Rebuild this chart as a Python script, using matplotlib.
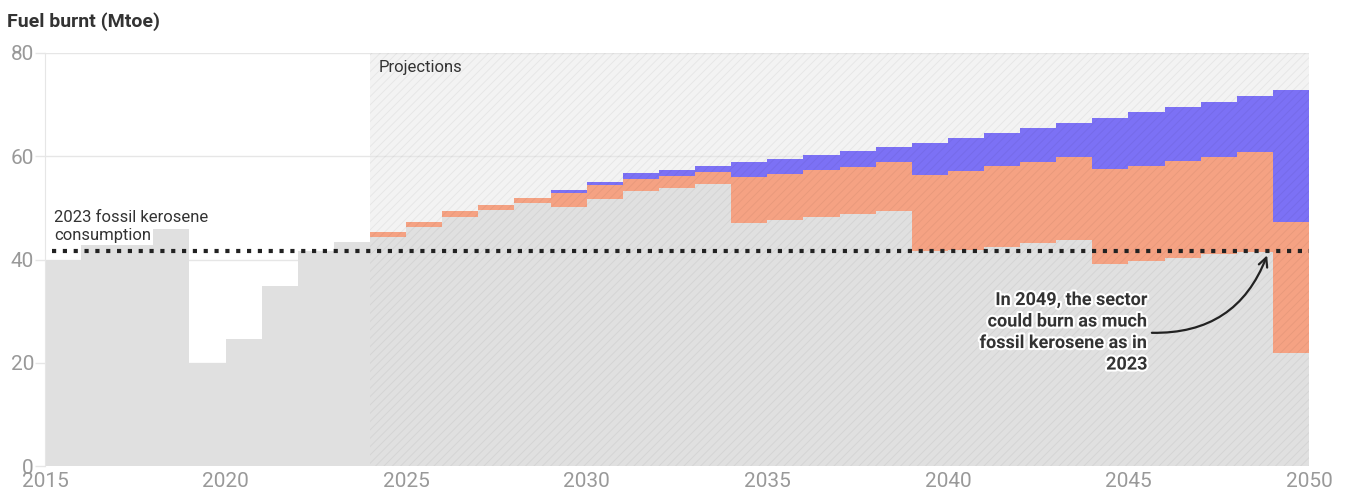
"""
Fuel burnt by aviation (Mtoe): fossil kerosene, biofuels and e-fuels,
history and projections to 2050, drawn as stacked steps.
"""
import numpy as np
import matplotlib
matplotlib.use("Agg")
from matplotlib import pyplot as plt
from matplotlib.patches import Rectangle
import matplotlib.patheffects as pe

# each value belongs to the year that ends its step
YEARS = list(range(2016, 2051))
FOSSIL = [40.0, 42.8, 42.8, 45.9, 20.0, 24.6, 34.9, 41.7, 43.4,
          44.3, 46.3, 48.2, 49.6, 51.0, 50.2, 51.7, 53.2, 53.9, 54.6,
          47.1, 47.6, 48.2, 48.8, 49.4, 41.7, 41.9, 42.5, 43.1, 43.8,
          39.2, 39.7, 40.3, 41.0, 41.5, 21.8]
BIOFUEL = [0, 0, 0, 0, 0, 0, 0, 0, 0,
           1.0, 1.0, 1.1, 1.0, 1.0, 2.7, 2.7, 2.3, 2.2, 2.3,
           8.8, 8.9, 9.1, 9.1, 9.4, 14.6, 15.3, 15.6, 15.8, 16.0,
           18.3, 18.5, 18.7, 18.9, 19.4, 25.5]
EFUEL = [0, 0, 0, 0, 0, 0, 0, 0, 0,
         0, 0, 0, 0, 0, 0.6, 0.6, 1.2, 1.2, 1.2,
         2.9, 3.0, 3.0, 3.1, 3.0, 6.3, 6.3, 6.4, 6.6, 6.6,
         9.9, 10.3, 10.5, 10.7, 10.8, 25.5]
FOSSIL_2023 = 41.7
PROJ_START = 2024
XTICKS = [2015, 2020, 2025, 2030, 2035, 2040, 2045, 2050]
YTICKS = [0, 20, 40, 60, 80]

plt.rcParams["font.family"] = ["Roboto", "DejaVu Sans"]
plt.rcParams["hatch.linewidth"] = 0.7

fig = plt.figure(figsize=(13.48, 4.93), dpi=100)
ax = fig.add_axes([45 / 1348, 1 - 466 / 493, 1264 / 1348, 413 / 493])

edges = np.arange(YEARS[0] - 1, YEARS[-1] + 1)
fossil = np.array(FOSSIL)
bio_top = fossil + np.array(BIOFUEL)
e_top = bio_top + np.array(EFUEL)

# projection background
ax.axvspan(PROJ_START, edges[-1], color="#f3f3f3", lw=0, zorder=0)

ax.stairs(fossil, edges, baseline=0, fill=True, color="#e0e0e0", lw=0, zorder=2)
ax.stairs(bio_top, edges, baseline=fossil, fill=True, color="#f5a283", lw=0, zorder=2)
ax.stairs(e_top, edges, baseline=bio_top, fill=True, color="#7c71f5", lw=0, zorder=2)

# hatch over the projection part
ax.add_patch(Rectangle((PROJ_START, 0), edges[-1] - PROJ_START, 80,
                       facecolor="none", edgecolor=(0, 0, 0, 0.05),
                       hatch="////", lw=0, zorder=3))

ax.hlines(FOSSIL_2023, 2015.2, edges[-1], colors="#222222", lw=3,
          linestyles=(0, (1, 1.6)), zorder=5)

ax.text(2015.25, 46.4, "2023 fossil kerosene\nconsumption", fontsize=12,
        color="#333333", va="center", ha="left", linespacing=1.2, zorder=6)
ax.text(PROJ_START + 0.25, 77.1, "Projections", fontsize=12,
        color="#333333", va="center", ha="left", zorder=6)

ax.text(2045.52, 25.9, "In 2049, the sector\ncould burn as much\nfossil kerosene as in\n2023",
        fontsize=13, fontweight="bold", color="#333333", ha="right", va="center",
        linespacing=1.25, zorder=7,
        path_effects=[pe.withStroke(linewidth=3, foreground="white")])
ax.annotate("", xy=(2048.84, 40.8), xytext=(2045.65, 25.8),
            arrowprops=dict(arrowstyle="->", color="#222222", lw=1.6,
                            connectionstyle="arc3,rad=0.35",
                            shrinkA=0, shrinkB=0, mutation_scale=16),
            zorder=7)

ax.set_xlim(2015, 2050)
ax.set_ylim(0, 80)
ax.set_xticks(XTICKS)
ax.set_yticks(YTICKS)
ax.grid(axis="y", color="#e6e6e6", lw=1, zorder=1)
ax.set_axisbelow(True)
ax.tick_params(axis="x", length=0, pad=4, labelsize=15, labelcolor="#999999")
ax.tick_params(axis="y", length=7, width=1, color="#e6e6e6", pad=1,
               labelsize=15, labelcolor="#999999")
for side in ["top", "right", "bottom"]:
    ax.spines[side].set_visible(False)
ax.spines["left"].set_color("#e6e6e6")

fig.text(7 / 1348, 1 - 22 / 493, "Fuel burnt (Mtoe)", fontsize=14,
         fontweight="bold", color="#333333", va="center", ha="left")

fig.savefig("out.png", dpi=100)
